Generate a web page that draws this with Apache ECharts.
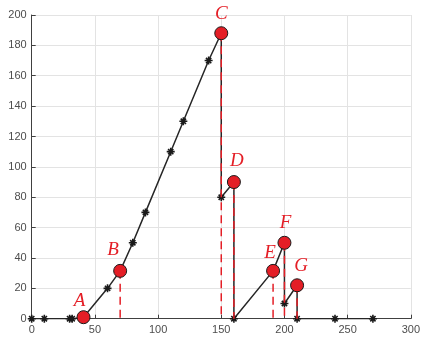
<!DOCTYPE html>
<html>
<head>
<meta charset="utf-8">
<script src="https://cdn.jsdelivr.net/npm/echarts@6/dist/echarts.min.js"></script>
<style>
  html, body { margin: 0; padding: 0; background: #fff; }
  #chart { width: 423px; height: 340px; }
</style>
</head>
<body>
<div id="chart"></div>
<script>
// 折线上的点 (带星号标记)
var pathX = [0, 10, 30, 32, 41, 60, 70, 80, 90, 110, 120, 140, 150, 150, 160, 160, 191, 200, 200, 210, 210, 240, 270];
var pathY = [0, 0, 0, 0, 1, 20, 31.5, 50, 70, 110, 130, 170, 188, 80, 90, 0, 31.5, 50, 10, 22, 0, 0, 0];

// 关键点 A-G
var pointNames = ['A', 'B', 'C', 'D', 'E', 'F', 'G'];
var pointX = [41, 70, 150, 160, 191, 200, 210];
var pointY = [1, 31.5, 188, 90, 31.5, 50, 22];

// 需要画红色虚线的点
var dropNames = ['B', 'C', 'D', 'E', 'F', 'G'];

var xTicks = [0, 50, 100, 150, 200, 250, 300];
var yTicks = [0, 20, 40, 60, 80, 100, 120, 140, 160, 180, 200];

// 标签相对圆点中心的偏移
var labelOffset = {
    A: [-4, -16], B: [-7, -21], C: [0, -19], D: [3, -21],
    E: [-3, -18], F: [1, -20], G: [4, -19]
};

var red = '#e41e26';
var star = 'path://M0,4L10,4L10,6L0,6Z M4,0L6,0L6,10L4,10Z M1,2.4L2.4,1L9,7.6L7.6,9Z M7.6,1L9,2.4L2.4,9L1,7.6Z';

var myChart = echarts.init(document.getElementById('chart'));

var series = [];

// 黑色折线 + 星号
var starPts = [];
var linePts = pathX.map(function (x, i) { return [x, pathY[i]]; });
linePts.forEach(function (p) {
    var isKey = false;
    for (var k = 0; k < pointX.length; k++) {
        if (pointX[k] === p[0] && pointY[k] === p[1]) isKey = true;
    }
    if (!isKey) starPts.push(p);
});
series.push({
    type: 'line',
    data: linePts,
    symbol: 'none',
    lineStyle: { color: '#262626', width: 1.5 },
    z: 2
});
series.push({
    type: 'scatter',
    data: starPts,
    symbol: star,
    symbolSize: 8,
    itemStyle: { color: '#1a1a1a', opacity: 1 },
    z: 3
});

// 红色虚线
dropNames.forEach(function (name) {
    var k = pointNames.indexOf(name);
    series.push({
        type: 'line',
        data: [[pointX[k], pointY[k]], [pointX[k], 0]],
        symbol: 'none',
        lineStyle: { color: red, width: 1.5, type: [8, 5] },
        z: 4
    });
});

// 红色圆点和字母
series.push({
    type: 'scatter',
    data: pointNames.map(function (name, k) {
        return {
            value: [pointX[k], pointY[k]],
            name: name,
            label: { offset: labelOffset[name] }
        };
    }),
    symbol: 'circle',
    symbolSize: 13,
    itemStyle: { color: red, borderColor: '#1a1a1a', borderWidth: 1, opacity: 1 },
    label: {
        show: true,
        position: 'inside',
        formatter: '{b}',
        color: red,
        fontFamily: 'Liberation Serif',
        fontStyle: 'italic',
        fontSize: 19
    },
    z: 5
});

var option = {
    animation: false,
    grid: { left: 31.7, right: 8, top: 15, bottom: 21.3, containLabel: false },
    xAxis: {
        type: 'value',
        min: 0, max: 300, interval: 50,
        axisLine: { onZero: false, lineStyle: { color: '#404040', width: 1 } },
        axisTick: { show: true, inside: true, length: 4, lineStyle: { color: '#404040' } },
        axisLabel: {
            color: '#4d4d4d', fontSize: 11, fontFamily: 'Liberation Sans', margin: 6,
            formatter: function (v) { return xTicks.indexOf(v) >= 0 ? String(v) : ''; }
        },
        splitLine: { show: true, lineStyle: { color: '#e3e3e3', width: 1 } }
    },
    yAxis: {
        type: 'value',
        min: 0, max: 200, interval: 20,
        axisLine: { show: true, onZero: false, lineStyle: { color: '#404040', width: 1 } },
        axisTick: { show: true, inside: true, length: 4, lineStyle: { color: '#404040' } },
        axisLabel: {
            color: '#4d4d4d', fontSize: 11, fontFamily: 'Liberation Sans', margin: 5,
            formatter: function (v) { return yTicks.indexOf(v) >= 0 ? String(v) : ''; }
        },
        splitLine: { show: true, lineStyle: { color: '#e3e3e3', width: 1 } }
    },
    series: series
};

myChart.setOption(option);
</script>
</body>
</html>
